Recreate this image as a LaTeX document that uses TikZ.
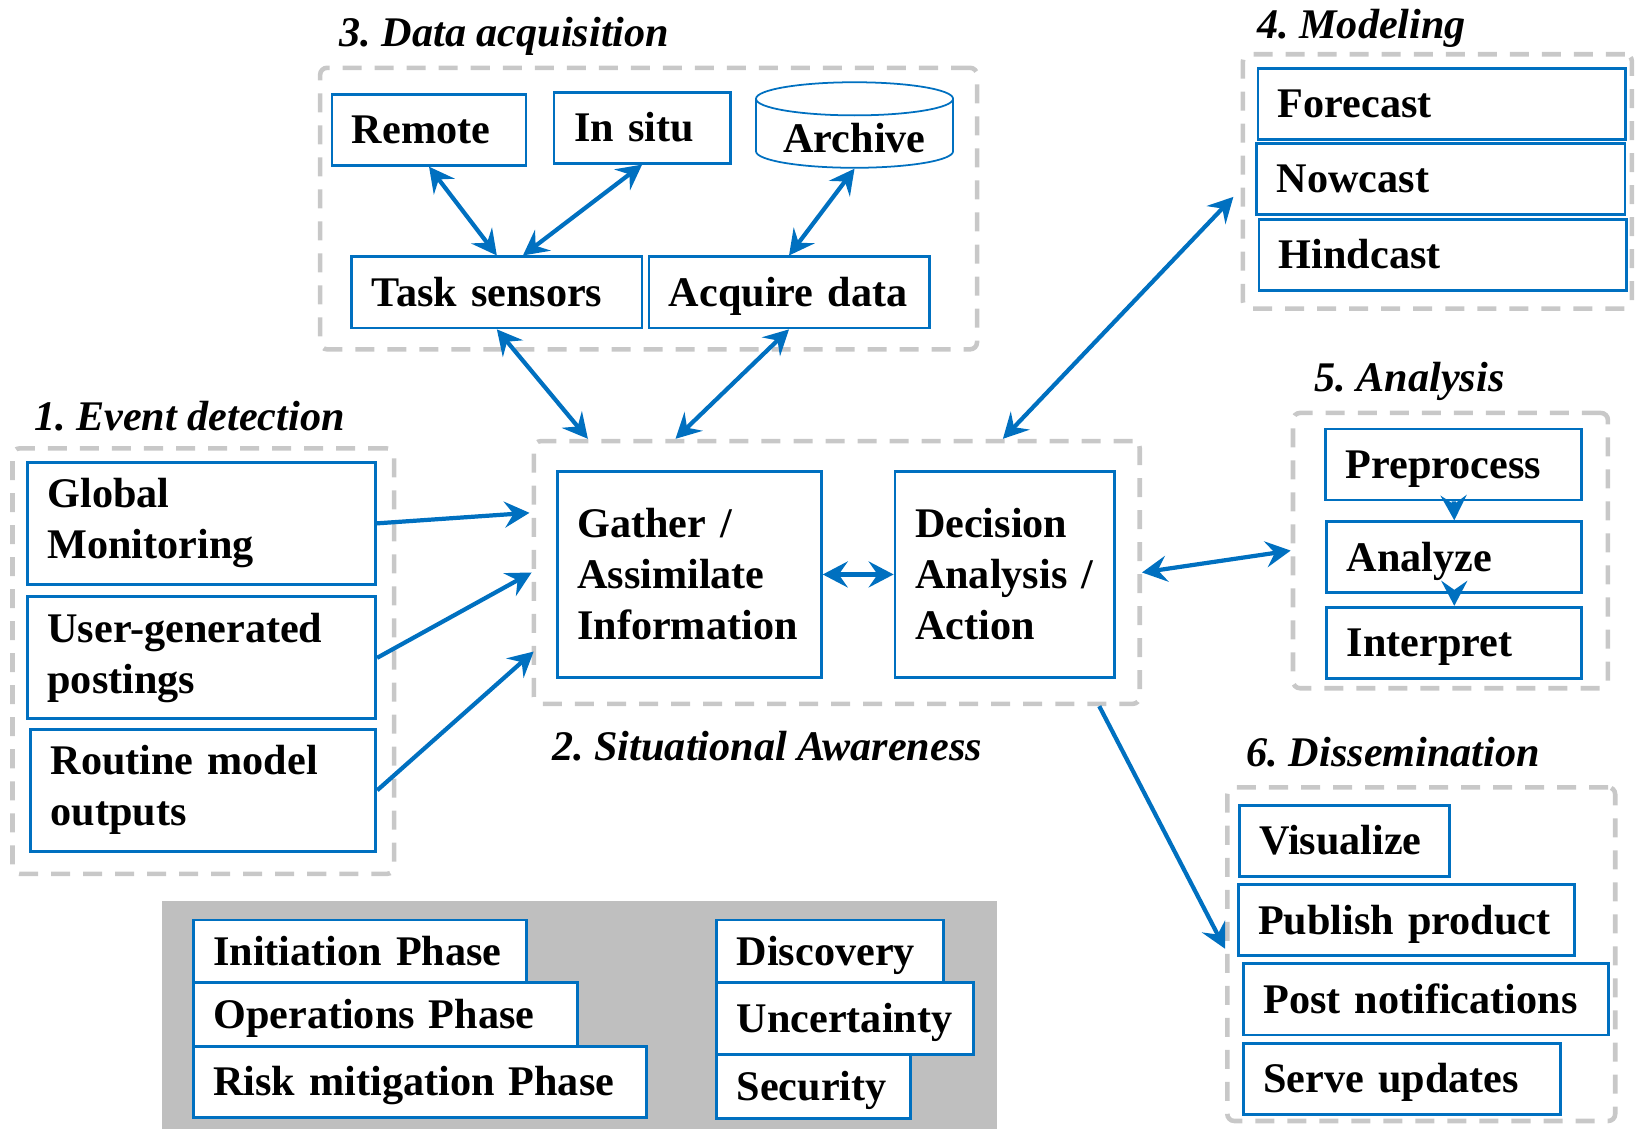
\documentclass[tikz,border=0pt]{standalone}
\usepackage{fontspec}
\setmainfont{Liberation Serif}
\usepackage{tikz}
\usetikzlibrary{arrows.meta,positioning,calc,fit,backgrounds,shapes.geometric}
\definecolor{boxblue}{HTML}{0070C0}
\definecolor{framegray}{HTML}{C8C8C8}
\definecolor{legendgray}{HTML}{BFBFBF}
\frenchspacing

\begin{document}
\begin{tikzpicture}[x=0.010427cm, y=-0.010427cm,
  font=\fontsize{12}{14.5}\selectfont\bfseries,
  >={Stealth[length=2.5mm,width=2.6mm,inset=0.9mm]},
  box/.style={draw=boxblue, line width=0.8pt, fill=white, anchor=north west,
    align=left, inner xsep=0.2cm, inner ysep=0pt, minimum height=0.71cm},
  one/.style={box, text height=1em, text depth=0.2em},
  tall/.style={box, minimum height=1.22cm},
  frame/.style={draw=framegray, line width=1.3pt, dash pattern=on 1.9mm off 1.3mm,
    rounded corners=2pt, inner sep=0pt},
  title/.style={anchor=base west, inner sep=0pt,
    font=\fontsize{12}{14.5}\selectfont\bfseries\itshape},
  link/.style={draw=boxblue, line width=1.2pt, <->},
  feed/.style={draw=boxblue, line width=1.2pt, ->},
  seq/.style={draw=boxblue, line width=1.2pt, ->}]
\useasboundingbox (0,0) rectangle (1568,1083);

\node[frame, fit={(12,430) (378,838)}] (ev) {};
\node[frame, fit={(512,423) (1093,675)}] (sa) {};
\node[frame, fit={(307,65) (937,335)}] (acq) {};
\node[frame, fit={(1192,52) (1565,296)}] (model) {};
\node[frame, fit={(1240,396) (1542,660)}] (ana) {};
\node[frame, fit={(1177,755) (1549,1075)}] (dis) {};

\node[title] (t1) at (32,413) {1. Event detection};
\node[title] (t2) at (529,729) {2. Situational Awareness};
\node[title] (t3) at (325,45) {3. Data acquisition};
\node[title] (t4) at (1205,37) {4. Modeling};
\node[title] (t5) at (1260,375) {5. Analysis};
\node[title] (t6) at (1195,735) {6. Dissemination};

\node[tall, text width=3.08cm] (global) at (25,442) {Global\\Monitoring};
\node[tall, text width=3.08cm] (user) at (25,571) {User-generated\\postings};
\node[tall, text width=3.05cm] (routine) at (28,698) {Routine model\\outputs};

\node[box, minimum height=2.054cm, text width=2.24cm] (gather) at (533,451)
  {Gather~/\\Assimilate\\Information};
\node[box, minimum height=2.054cm, text width=1.79cm] (decision) at (857,451)
  {Decision\\Analysis~/\\Action};

\node[one, text width=1.54cm] (remote) at (317,89) {Remote};
\node[one, text width=1.36cm] (insitu) at (530,87) {In situ};
\node[draw=boxblue, line width=0.5pt, fill=white, cylinder, shape border rotate=90,
  aspect=0.2, inner ysep=0pt, minimum width=1.97cm, minimum height=0.855cm]
  (archive) at (819.5,132) {Archive};
\node[one, text width=2.5cm] (task) at (336,245) {Task sensors};
\node[one, text width=2.4cm] (acquire) at (621,245) {Acquire data};

\node[one, text width=3.27cm] (forecast) at (1205,64) {Forecast};
\node[one, text width=3.28cm] (nowcast) at (1204,136) {Nowcast};
\node[one, text width=3.27cm] (hindcast) at (1206,209) {Hindcast};

\node[one, text width=2.16cm] (prep) at (1270,410) {Preprocess};
\node[one, text width=2.15cm] (analyze) at (1271,499) {Analyze};
\node[one, text width=2.15cm] (interp) at (1271,581) {Interpret};

\node[one, text width=1.7cm] (visual) at (1187,771) {Visualize};
\node[one, text width=2.96cm] (publish) at (1186,847) {Publish product};
\node[one, text width=3.25cm] (post) at (1191,923) {Post notifications};
\node[one, text width=2.77cm] (serve) at (1191,999) {Serve updates};

\fill[legendgray] (155,864) rectangle (956,1083);
\node[one, minimum height=0.626cm, text width=2.93cm] (init) at (184,881) {Initiation Phase};
\node[one, minimum height=0.636cm, text width=3.44cm] (oper) at (184,941) {Operations Phase};
\node[one, text width=4.13cm] (risk) at (184,1002) {Risk mitigation Phase};
\node[one, minimum height=0.626cm, text width=1.87cm] (disc) at (686,881) {Discovery};
\node[one, minimum height=0.72cm, text width=2.17cm] (uncert) at (686,941) {Uncertainty};
\node[one, minimum height=0.636cm, text width=1.54cm] (secur) at (686,1010) {Security};

\draw[link] (remote.south) -- (task.north);
\draw[link] (insitu.south) -- ($(task.north)+(25,0)$);
\draw[link] (archive.south) -- (acquire.north);
\draw[link] (task.south) -- ($(sa.north west)+(54,0)$);
\draw[link] (acquire.south) -- ($(sa.north west)+(138,0)$);
\draw[link] ($(model.north west)+(-7,139)$) -- ($(sa.north west)+(452,0)$);
\draw[link] (sa.east) -- (ana.west);
\draw[link] (gather.east) -- (decision.west);
\draw[feed] (global.east) -- ($(sa.north west)+(-2,71)$);
\draw[feed] (user.east) -- (sa.west);
\draw[feed] (routine.east) -- ($(sa.north west)+(2,204)$);
\draw[feed] ($(sa.south east)+(-41,0)$) -- ($(dis.north west)+(0,157)$);
\draw[seq] (prep.south) -- (analyze.north);
\draw[seq] (analyze.south) -- (interp.north);
\end{tikzpicture}
\end{document}
